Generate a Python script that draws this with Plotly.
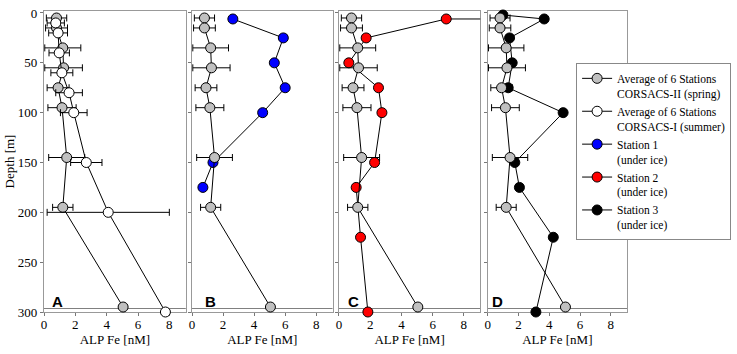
import plotly.graph_objects as go

# ---------------- data ----------------
depth_spring = [5, 15, 35, 55, 75, 95, 145, 195, 295]
alp_spring = [0.8, 0.8, 1.2, 1.25, 0.9, 1.15, 1.45, 1.2, 5.05]
err_spring = [0.65, 0.7, 1.15, 1.2, 0.7, 0.9, 1.15, 0.65, 0]

depth_summer = [10, 20, 40, 60, 80, 100, 150, 200, 300]
alp_summer = [0.75, 0.9, 0.97, 1.14, 1.6, 1.9, 2.7, 4.1, 7.75]
err_summer = [0.55, 0.6, 0.65, 0.7, 0.85, 0.85, 1.0, 3.9, 0]

depth_st1 = [6, 25, 50, 75, 100, 150, 175]
alp_st1 = [2.63, 5.88, 5.3, 6.0, 4.55, 1.35, 0.7]

depth_st2 = [6, 6, 25, 50, 75, 100, 150, 175, 225, 300]
alp_st2 = [12, 6.87, 1.74, 0.63, 2.53, 2.75, 2.28, 1.1, 1.38, 1.85]

depth_st3 = [2, 6, 25, 50, 75, 100, 150, 175, 225, 300]
alp_st3 = [0.99, 3.67, 1.42, 1.59, 1.33, 4.9, 1.76, 2.06, 4.26, 3.13]

panel_labels = ["A", "B", "C", "D"]
x_ticks = [0, 2, 4, 6, 8]
y_ticks = [0, 50, 100, 150, 200, 250, 300]

legend_names = [
    "Average of 6 Stations<br>CORSACS-II (spring)",
    "Average of 6 Stations<br>CORSACS-I (summer)",
    "Station 1<br>(under ice)",
    "Station 2<br>(under ice)",
    "Station 3<br>(under ice)",
]

# ---------------- style ----------------
SERIF = "Liberation Serif, 'Times New Roman', serif"
GRAY = "#c0c0c0"
FRAME = "#999999"
X_MAX = 9.05
MS = 10

domains = [[0.0, 0.2432], [0.2539, 0.4949], [0.5060, 0.7483], [0.7611, 1.0]]
label_shift = [6, 11, 7, 2]

fig = go.Figure()

def err(arr):
    return dict(type="data", array=arr, color="black", thickness=1, width=3.5)

def add(xs, ys, fill, axis_i, error=None, sizes=None):
    xa = "x" if axis_i == 0 else f"x{axis_i+1}"
    ya = "y" if axis_i == 0 else f"y{axis_i+1}"
    fig.add_trace(go.Scatter(
        x=xs, y=ys, mode="lines+markers", xaxis=xa, yaxis=ya,
        line=dict(color="black", width=1),
        marker=dict(symbol="circle", size=sizes if sizes else MS, color=fill, opacity=1,
                    line=dict(color="black", width=1)),
        error_x=err(error) if error else None,
        cliponaxis=False, showlegend=False, hoverinfo="skip"))

# Panel A: spring then summer on top
add(alp_spring, depth_spring, GRAY, 0, err_spring)
add(alp_summer, depth_summer, "white", 0, err_summer)
# Panel B
add(alp_st1, depth_st1, "#0000ff", 1)
add(alp_spring, depth_spring, GRAY, 1, err_spring)
# Panel C
sizes_st2 = [MS if v <= X_MAX else 0 for v in alp_st2]
add(alp_st2, depth_st2, "#ff0000", 2, sizes=sizes_st2)
add(alp_spring, depth_spring, GRAY, 2, err_spring)
# Panel D
add(alp_st3, depth_st3, "black", 3)
add(alp_spring, depth_spring, GRAY, 3, err_spring)

# legend-only entries
for name, fill in zip(legend_names, [GRAY, "white", "#0000ff", "#ff0000", "black"]):
    fig.add_trace(go.Scatter(
        x=[None], y=[None], mode="lines+markers", name=name,
        line=dict(color="black", width=1),
        marker=dict(symbol="circle", size=MS, color=fill, opacity=1,
                    line=dict(color="black", width=1)),
        showlegend=True, xaxis="x4", yaxis="y4"))

layout = dict(
    width=737, height=354,
    margin=dict(l=44, r=109, t=6, b=42),
    paper_bgcolor="white", plot_bgcolor="white",
    font=dict(family=SERIF, size=13, color="black"),
    showlegend=True,
    legend=dict(x=0.9127, y=0.826, xanchor="left", yanchor="top",
                bgcolor="white", bordercolor="#888888", borderwidth=1,
                font=dict(family=SERIF, size=11.5, color="black"),
                valign="top", tracegroupgap=0, itemwidth=30),
)

shapes = []
annotations = []
for i in range(4):
    sfx = "" if i == 0 else str(i + 1)
    layout[f"xaxis{sfx}"] = dict(
        domain=domains[i], range=[0, X_MAX], anchor=f"y{sfx}",
        tickvals=x_ticks, ticks="outside", ticklen=3, tickcolor="#777777",
        ticklabelstandoff=-3, layer="below traces",
        showline=True, linecolor=FRAME, linewidth=1.2, mirror=True,
        showgrid=False, zeroline=False,
        title=dict(text="ALP Fe [nM]", font=dict(family=SERIF, size=13), standoff=1),
        tickfont=dict(family=SERIF, size=13))
    layout[f"yaxis{sfx}"] = dict(
        range=[300, -2], anchor=f"x{sfx}",
        tickvals=y_ticks, ticks="outside", ticklen=3, tickcolor="#777777",
        showticklabels=(i == 0), layer="below traces",
        showline=True, linecolor=FRAME, linewidth=1.2, mirror=True,
        showgrid=False, zeroline=False,
        tickfont=dict(family=SERIF, size=13))
    if i == 0:
        layout["yaxis"]["title"] = dict(text="Depth [m]", font=dict(family=SERIF, size=13), standoff=0)
    xr = "x" + sfx
    shapes.append(dict(type="line", xref=f"{xr} domain", yref=f"y{sfx}",
                       x0=0, x1=1, y0=296.5, y1=296.5, layer="below",
                       line=dict(color="#808080", width=1.2)))
    annotations.append(dict(text=f"<b>{panel_labels[i]}</b>", xref=f"{xr} domain", yref=f"y{sfx}",
                            x=0, y=289, xanchor="left", yanchor="middle", xshift=label_shift[i],
                            showarrow=False, font=dict(family="Liberation Sans", size=15, color="black")))

layout["shapes"] = shapes
layout["annotations"] = annotations
fig.update_layout(**layout)

fig.write_html("out.html", config={"displayModeBar": False},
               post_script="document.body.style.margin='0';document.body.style.padding='0';")
